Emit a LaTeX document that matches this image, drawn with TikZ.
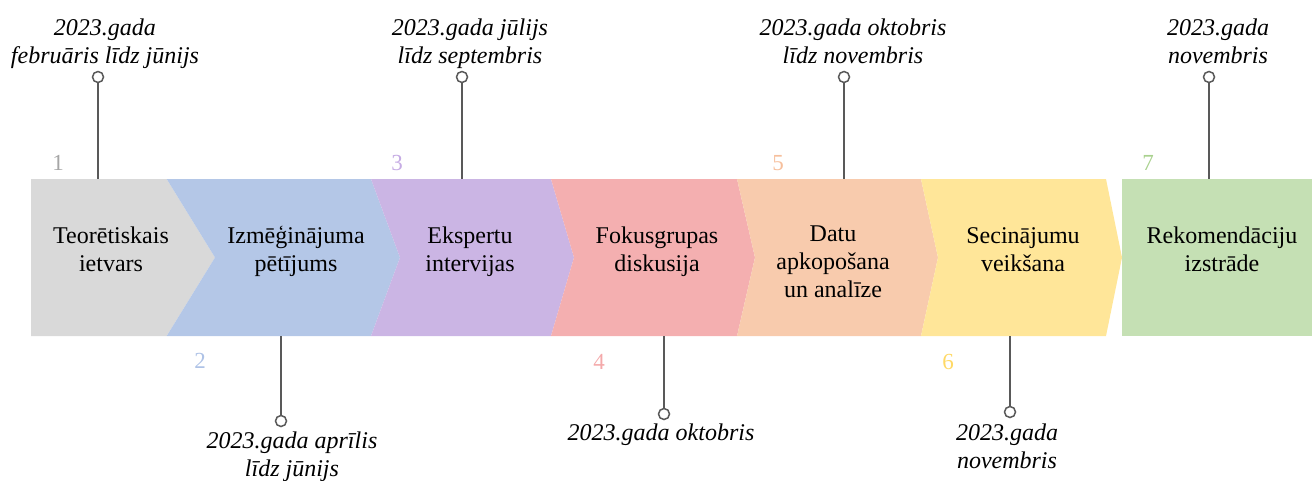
\documentclass[tikz,border=0pt]{standalone}
\usepackage{fontspec}
\setmainfont{Liberation Serif}
\definecolor{fillA}{HTML}{D9D9D9}
\definecolor{fillB}{HTML}{B4C7E7}
\definecolor{fillC}{HTML}{CBB5E4}
\definecolor{fillD}{HTML}{F4AFB0}
\definecolor{fillE}{HTML}{F8CBAD}
\definecolor{fillF}{HTML}{FFE699}
\definecolor{fillG}{HTML}{C5E0B4}
\definecolor{numA}{HTML}{A6A6A6}
\definecolor{numB}{HTML}{AEC2E6}
\definecolor{numC}{HTML}{C6ACE4}
\definecolor{numD}{HTML}{F4A9AA}
\definecolor{numE}{HTML}{F6BF9C}
\definecolor{numF}{HTML}{FFD966}
\definecolor{numG}{HTML}{A9D18E}
\definecolor{pingray}{HTML}{595959}
\newcommand{\cellrows}[1]{\begin{tabular}[t]{@{}c@{}}#1\end{tabular}}
\tikzset{
  lbl/.style={anchor=base, inner sep=0pt, font=\fontsize{24}{28}\selectfont},
  date/.style={anchor=base, inner sep=0pt, font=\fontsize{24}{28}\selectfont\itshape},
  num/.style={inner sep=0pt, font=\fontsize{23}{27}\selectfont},
  pin/.style={circle, draw=pingray, line width=1.5pt, fill=white,
              minimum size=11pt, inner sep=0pt},
  stem/.style={draw=pingray, line width=2pt},
}
\begin{document}
\begin{tikzpicture}[x=1pt, y=-1pt]
\useasboundingbox (0,0) rectangle (1312,480);

% chevron band
\fill[fillA] (31,179) -- (166.7,179) -- (215,257.5) -- (166.7,336) -- (31,336) -- cycle;
\fill[fillB] (166.7,179) -- (371,179) -- (400,257.5) -- (371,336) -- (166.7,336) -- (215,257.5) -- cycle;
\fill[fillC] (371,179) -- (551,179) -- (574,257.5) -- (551,336) -- (371,336) -- (400,257.5) -- cycle;
\fill[fillD] (551,179) -- (737,179) -- (755,257.5) -- (737,336) -- (551,336) -- (574,257.5) -- cycle;
\fill[fillE] (737,179) -- (921,179) -- (938,257.5) -- (921,336) -- (737,336) -- (755,257.5) -- cycle;
\fill[fillF] (921,179) -- (1106,179) -- (1122,257.5) -- (1106,336) -- (921,336) -- (938,257.5) -- cycle;
\fill[fillG] (1122,179) rectangle (1312,336);

% step labels
\node[lbl] (s1) at (111,243) {\cellrows{Teorētiskais\\ietvars}};
\node[lbl] (s2) at (296,243) {\cellrows{Izmēģinājuma\\pētījums}};
\node[lbl] (s3) at (470,243) {\cellrows{Ekspertu\\intervijas}};
\node[lbl] (s4) at (657,243) {\cellrows{Fokusgrupas\\diskusija}};
\node[lbl] (s5) at (833,241) {\cellrows{Datu\\apkopošana\\un analīze}};
\node[lbl] (s6) at (1023,243) {\cellrows{Secinājumu\\veikšana}};
\node[lbl] (s7) at (1222,243) {\cellrows{Rekomendāciju\\izstrāde}};

% step numbers
\node[num, text=numA] (n1) at (58,163) {1};
\node[num, text=numB] (n2) at (200,361) {2};
\node[num, text=numC] (n3) at (397,163) {3};
\node[num, text=numD] (n4) at (599,362) {4};
\node[num, text=numE] (n5) at (778,163) {5};
\node[num, text=numF] (n6) at (948,362) {6};
\node[num, text=numG] (n7) at (1148,163) {7};

% stems to the band
\coordinate (e1) at (98,179);
\coordinate (e2) at (281,336);
\coordinate (e3) at (462,179);
\coordinate (e4) at (664,336);
\coordinate (e5) at (844,179);
\coordinate (e6) at (1010,336);
\coordinate (e7) at (1209,179);
\node[pin] (p1) at (98,77) {};
\node[pin] (p2) at (281,421) {};
\node[pin] (p3) at (462,77) {};
\node[pin] (p4) at (664,414) {};
\node[pin] (p5) at (844,77) {};
\node[pin] (p6) at (1010,412) {};
\node[pin] (p7) at (1209,77) {};
\foreach \i in {1,...,7} \draw[stem] (p\i) -- (e\i);

% dates
\node[date] (d1) at (105,35) {\cellrows{2023.gada\\februāris līdz jūnijs}};
\node[date] (d2) at (292,448) {\cellrows{2023.gada aprīlis\\līdz jūnijs}};
\node[date] (d3) at (470,35) {\cellrows{2023.gada jūlijs\\līdz septembris}};
\node[date] (d4) at (661,440) {2023.gada oktobris};
\node[date] (d5) at (853,35) {\cellrows{2023.gada oktobris\\līdz novembris}};
\node[date] (d6) at (1007,440) {\cellrows{2023.gada\\novembris}};
\node[date] (d7) at (1218,35) {\cellrows{2023.gada\\novembris}};
\end{tikzpicture}
\end{document}
